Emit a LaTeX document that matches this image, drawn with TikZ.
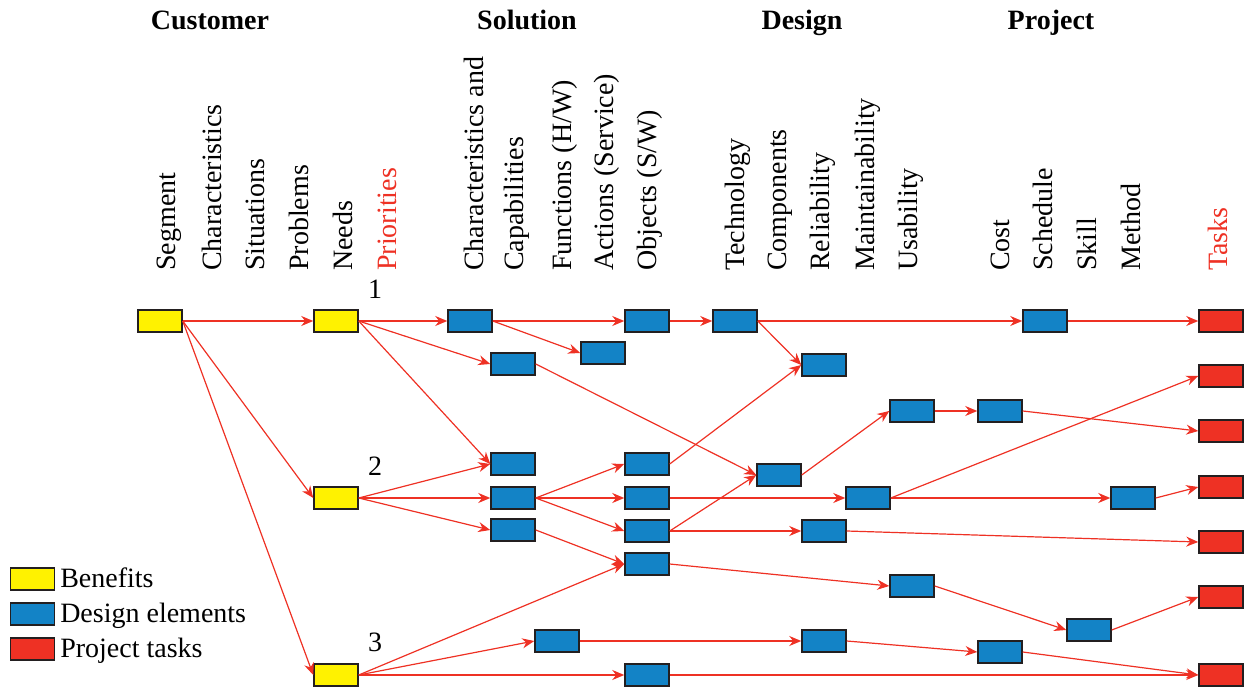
\documentclass[tikz,border=0pt]{standalone}
\usepackage{fontspec}
\setmainfont{Liberation Serif}
\usetikzlibrary{arrows.meta}
\definecolor{byel}{HTML}{FFF200}
\definecolor{bblue}{HTML}{1383C6}
\definecolor{bred}{HTML}{EE3124}
\definecolor{lred}{HTML}{EE3124}
\definecolor{bord}{HTML}{231F20}
\tikzset{
  box/.style={draw=bord, line width=1.1pt, minimum width=33pt, minimum height=16.5pt, inner sep=0pt},
  ben/.style={box, fill=byel},
  des/.style={box, fill=bblue},
  tsk/.style={box, fill=bred},
  lab/.style={rotate=90, anchor=west, inner sep=0pt, font=\fontsize{21}{24}\selectfont},
  hdr/.style={anchor=base, inner sep=0pt, font=\fontsize{21}{24}\selectfont\bfseries},
  num/.style={anchor=base, inner sep=0pt, font=\fontsize{21}{24}\selectfont},
  leg/.style={anchor=base west, inner sep=0pt, font=\fontsize{21}{24}\selectfont},
  arr/.style={draw=lred, line width=0.9pt, -{Stealth[length=9pt, width=7.5pt]}}
}
\begin{document}
\begin{tikzpicture}[x=0.75pt, y=-0.75pt]
\useasboundingbox (0,0) rectangle (1247,688);
% headers
\node[hdr] at (210,30) {Customer};
\node[hdr] at (527,30) {Solution};
\node[hdr] at (802,30) {Design};
\node[hdr] at (1051,30) {Project};
% column labels
\node[lab] at (169,271) {Segment};
\node[lab] at (212,271) {Characteristics};
\node[lab] at (255,271) {Situations};
\node[lab] at (299,271) {Problems};
\node[lab] at (343,271) {Needs};
\node[lab, text=lred] at (387,271) {Priorities};
\node[lab] at (474,271) {Characteristics and};
\node[lab] at (517,271) {Capabilities};
\node[lab] at (565,271) {Functions (H/W)};
\node[lab] at (607,271) {Actions (Service)};
\node[lab] at (650,271) {Objects (S/W)};
\node[lab] at (738,271) {Technology};
\node[lab] at (780,271) {Components};
\node[lab] at (823,271) {Reliability};
\node[lab] at (868,271) {Maintainability};
\node[lab] at (911,271) {Usability};
\node[lab] at (1000,271) {Cost};
\node[lab] at (1043,271) {Schedule};
\node[lab] at (1087,271) {Skill};
\node[lab] at (1131,271) {Method};
\node[lab, text=lred] at (1218,271) {Tasks};
% priority numbers
\node[num] (n1) at (375,299) {1};
\node[num] (n2) at (375,475) {2};
\node[num] (n3) at (375,651) {3};
% benefits
\node[ben] (y0) at (160,321) {};
\node[ben] (y1) at (336,321) {};
\node[ben] (y2) at (336,498) {};
\node[ben] (y3) at (336,675) {};
% design elements
\node[des] (c1) at (470,321) {};
\node[des] (cap1) at (513,364) {};
\node[des] (act1) at (603,353) {};
\node[des] (obj1) at (647,321) {};
\node[des] (tech1) at (735,321) {};
\node[des] (rel1) at (824,365) {};
\node[des] (us1) at (912,411) {};
\node[des] (cost1) at (1000,411) {};
\node[des] (sch1) at (1045,321) {};
\node[des] (cap2) at (513,464) {};
\node[des] (cap3) at (513,498) {};
\node[des] (cap4) at (513,530) {};
\node[des] (obj2) at (647,464) {};
\node[des] (obj3) at (647,498) {};
\node[des] (obj4) at (647,531) {};
\node[des] (comp) at (779,475) {};
\node[des] (maint) at (868,498) {};
\node[des] (rel2) at (824,531) {};
\node[des] (meth) at (1133,498) {};
\node[des] (obj5) at (647,564) {};
\node[des] (us2) at (912,586) {};
\node[des] (skill) at (1089,630) {};
\node[des] (func) at (557,641) {};
\node[des] (rel3) at (824,641) {};
\node[des] (cost2) at (1000,652) {};
\node[des] (obj6) at (647,675) {};
% tasks
\node[tsk] (t1) at (1221,321) {};
\node[tsk] (t2) at (1221,376) {};
\node[tsk] (t3) at (1221,431) {};
\node[tsk] (t4) at (1221,487) {};
\node[tsk] (t5) at (1221,542) {};
\node[tsk] (t6) at (1221,597) {};
\node[tsk] (t7) at (1221,675) {};
% legend
\node[ben] (lg1) at (32.5,579) {};
\node[des] (lg2) at (32.5,614) {};
\node[tsk] (lg3) at (32.5,649) {};
\node[leg] (lt1) at (60,587) {Benefits};
\node[leg] (lt2) at (60,622) {Design elements};
\node[leg] (lt3) at (60,657) {Project tasks};
% connectors
\draw[arr] (y0.east) -- (y1.west);
\draw[arr] (y0.east) -- (y2.west);
\draw[arr] (y0.east) -- (y3.west);
\draw[arr] (y1.east) -- (c1.west);
\draw[arr] (y1.east) -- (cap1.west);
\draw[arr] (y1.east) -- (cap2.west);
\draw[arr] (c1.east) -- (obj1.west);
\draw[arr] (c1.east) -- (act1.west);
\draw[arr] (cap1.east) -- (comp.west);
\draw[arr] (obj1.east) -- (tech1.west);
\draw[arr] (tech1.east) -- (sch1.west);
\draw[arr] (tech1.east) -- (rel1.west);
\draw[arr] (sch1.east) -- (t1.west);
\draw[arr] (y2.east) -- (cap2.west);
\draw[arr] (y2.east) -- (cap3.west);
\draw[arr] (y2.east) -- (cap4.west);
\draw[arr] (cap3.east) -- (obj2.west);
\draw[arr] (cap3.east) -- (obj3.west);
\draw[arr] (cap3.east) -- (obj4.west);
\draw[arr] (cap4.east) -- (obj5.west);
\draw[arr] (obj2.east) -- (rel1.west);
\draw[arr] (obj3.east) -- (maint.west);
\draw[arr] (obj4.east) -- (comp.west);
\draw[arr] (obj4.east) -- (rel2.west);
\draw[arr] (comp.east) -- (us1.west);
\draw[arr] (us1.east) -- (cost1.west);
\draw[arr] (cost1.east) -- (t3.west);
\draw[arr] (maint.east) -- (t2.west);
\draw[arr] (maint.east) -- (meth.west);
\draw[arr] (meth.east) -- (t4.west);
\draw[arr] (rel2.east) -- (t5.west);
\draw[arr] (obj5.east) -- (us2.west);
\draw[arr] (us2.east) -- (skill.west);
\draw[arr] (skill.east) -- (t6.west);
\draw[arr] (y3.east) -- (obj5.west);
\draw[arr] (y3.east) -- (func.west);
\draw[arr] (y3.east) -- (obj6.west);
\draw[arr] (func.east) -- (rel3.west);
\draw[arr] (rel3.east) -- (cost2.west);
\draw[arr] (cost2.east) -- (t7.west);
\draw[arr] (obj6.east) -- (t7.west);
\end{tikzpicture}
\end{document}
